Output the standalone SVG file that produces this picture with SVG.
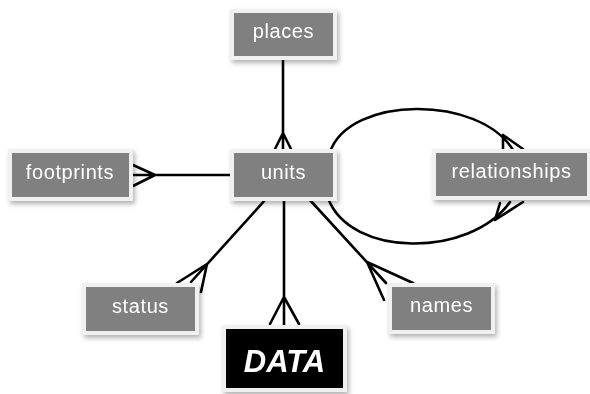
<svg xmlns="http://www.w3.org/2000/svg" width="590" height="394" viewBox="0 0 590 394">
  <style>
    .frame { fill: #f0f0f0; }
    .body { fill: #808080; }
    .dark { fill: #000000; }
    .label { font-family: "Liberation Sans", Arial, Helvetica, sans-serif; font-size: 20px; fill: #ffffff; text-anchor: middle; letter-spacing: 0.6px; }
    .big { font-family: "Liberation Sans", Arial, Helvetica, sans-serif; font-size: 31px; font-weight: bold; font-style: italic; fill: #ffffff; text-anchor: middle; }
    .edge { fill: none; stroke: #000000; stroke-width: 2.6; stroke-linecap: round; stroke-linejoin: round; }
  </style>
  <defs>
    <filter id="shadow" x="-20%" y="-30%" width="150%" height="170%">
      <feDropShadow dx="2" dy="3" stdDeviation="2.5" flood-color="#000000" flood-opacity="0.3"/>
    </filter>
  </defs>
  <rect width="590" height="394" fill="#ffffff"/>

  <!-- connectors (crow's foot at the "many" end) -->
  <g id="connectors" class="edge">
    <!-- places - units -->
    <path d="M283 60 V150 M283 133 L275 149 M283 133 L291 149"/>
    <!-- footprints - units -->
    <path d="M131 175 H230 M155 175 L133 165 M155 175 L133 186"/>
    <!-- units - status -->
    <path d="M266 199 L191 282 M207 264 L177 283 M207 264 L201 292"/>
    <!-- units - DATA -->
    <path d="M284 199 V326 M284 297 L270 324 M284 297 L299 324"/>
    <!-- units - names -->
    <path d="M309 199 L386 283 M367 262 L384 300 M367 262 L413 283"/>
    <!-- units - relationships (upper arc) -->
    <path d="M330 152 C350 95 480 95 513 150 M503 135 L503 150 M503 135 L523 149"/>
    <!-- units - relationships (lower arc) -->
    <path d="M328 198 C350 258 470 258 510 202 M495 220 L500 203 M495 220 L523 202"/>
  </g>

  <g id="places" filter="url(#shadow)">
    <rect class="frame" x="230" y="9" width="107" height="51"/>
    <rect class="body" x="234" y="13" width="99" height="43"/>
    <text class="label" x="283.5" y="38">places</text>
  </g>

  <g id="footprints" filter="url(#shadow)">
    <rect class="frame" x="8" y="149" width="125" height="52"/>
    <rect class="body" x="12" y="153" width="117" height="44"/>
    <text class="label" x="70" y="178.5">footprints</text>
  </g>

  <g id="units" filter="url(#shadow)">
    <rect class="frame" x="230" y="149" width="107" height="52"/>
    <rect class="body" x="234" y="153" width="99" height="44"/>
    <text class="label" x="283.5" y="178.5">units</text>
  </g>

  <g id="relationships" filter="url(#shadow)">
    <rect class="frame" x="432" y="149" width="160" height="51"/>
    <rect class="body" x="436" y="153" width="151" height="43"/>
    <text class="label" x="511.5" y="178">relationships</text>
  </g>

  <g id="status" filter="url(#shadow)">
    <rect class="frame" x="82" y="283" width="117" height="52"/>
    <rect class="body" x="86" y="287" width="109" height="44"/>
    <text class="label" x="140.5" y="312.5">status</text>
  </g>

  <g id="names" filter="url(#shadow)">
    <rect class="frame" x="388" y="283" width="107" height="51"/>
    <rect class="body" x="392" y="287" width="99" height="43"/>
    <text class="label" x="441.5" y="312">names</text>
  </g>

  <g id="data" filter="url(#shadow)">
    <rect class="frame" x="222" y="325" width="125" height="67"/>
    <rect class="dark" x="226" y="329" width="117" height="59"/>
    <text class="big" x="284.5" y="372">DATA</text>
  </g>
</svg>
